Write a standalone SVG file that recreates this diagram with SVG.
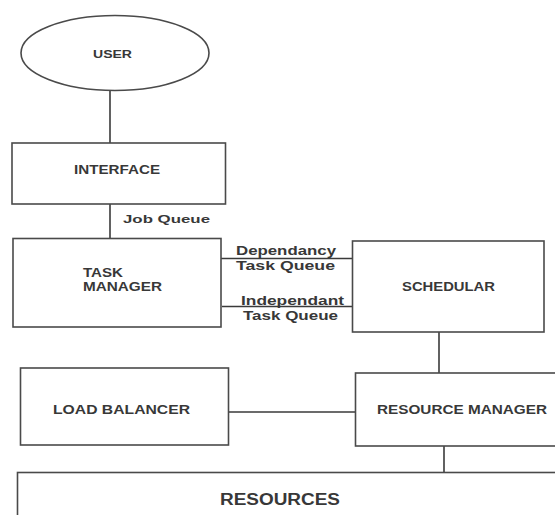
<svg xmlns="http://www.w3.org/2000/svg" width="555" height="515" viewBox="0 0 555 515">
<style>
.shape{fill:#fff;stroke:#4a4a4a;stroke-width:1.6}
.conn line{stroke:#3a3a3a;stroke-width:1.6}
text{font-family:"Liberation Sans",Arial,sans-serif;font-weight:bold;fill:#383838}
.s11{font-size:11px}
.s12{font-size:12px}
.s13{font-size:13px}
.s16{font-size:16px}
</style>
<rect width="555" height="515" fill="#fff"/>
<g id="connectors" class="conn">
<line x1="110" y1="90.5" x2="110" y2="143"/>
<line x1="110" y1="204" x2="110" y2="238.5"/>
<line x1="221" y1="258.5" x2="352.5" y2="258.5"/>
<line x1="222" y1="306.5" x2="352.5" y2="306.5"/>
<line x1="439" y1="332" x2="439" y2="373"/>
<line x1="228.5" y1="412" x2="355.5" y2="412"/>
<line x1="444" y1="446" x2="444" y2="472.5"/>
</g>
<g id="user">
<ellipse class="shape" cx="115" cy="53" rx="94" ry="37.5"/>
<text class="s11" x="93" y="57.5" textLength="39" lengthAdjust="spacingAndGlyphs">USER</text>
</g>
<g id="interface">
<rect class="shape" x="12" y="143" width="213.5" height="61"/>
<text class="s13" x="74" y="173.5" textLength="86" lengthAdjust="spacingAndGlyphs">INTERFACE</text>
</g>
<g id="job-queue-label">
<text class="s11" x="123" y="223" textLength="87" lengthAdjust="spacingAndGlyphs">Job Queue</text>
</g>
<g id="task-manager">
<rect class="shape" x="13" y="238.5" width="208" height="88.5"/>
<text class="s12" x="83" y="277" textLength="40" lengthAdjust="spacingAndGlyphs">TASK</text>
<text class="s12" x="83" y="290.5" textLength="79" lengthAdjust="spacingAndGlyphs">MANAGER</text>
</g>
<g id="queue-labels">
<text class="s12" x="236" y="254.5" textLength="100" lengthAdjust="spacingAndGlyphs">Dependancy</text>
<text class="s12" x="236" y="270" textLength="99" lengthAdjust="spacingAndGlyphs">Task Queue</text>
<text class="s12" x="241" y="305" textLength="103" lengthAdjust="spacingAndGlyphs">Independant</text>
<text class="s12" x="243" y="320" textLength="95" lengthAdjust="spacingAndGlyphs">Task Queue</text>
</g>
<g id="schedular">
<rect class="shape" x="352.5" y="241" width="191.5" height="91"/>
<text class="s12" x="402" y="290.5" textLength="93" lengthAdjust="spacingAndGlyphs">SCHEDULAR</text>
</g>
<g id="load-balancer">
<rect class="shape" x="20.5" y="368" width="208" height="77"/>
<text class="s12" x="53" y="413.5" textLength="137" lengthAdjust="spacingAndGlyphs">LOAD BALANCER</text>
</g>
<g id="resource-manager">
<rect class="shape" x="355.5" y="373" width="210" height="73"/>
<text class="s12" x="377" y="414" textLength="170" lengthAdjust="spacingAndGlyphs">RESOURCE MANAGER</text>
</g>
<g id="resources">
<rect class="shape" x="17.5" y="472.5" width="550" height="60"/>
<text class="s16" x="220" y="505" textLength="120" lengthAdjust="spacingAndGlyphs">RESOURCES</text>
</g>
</svg>
